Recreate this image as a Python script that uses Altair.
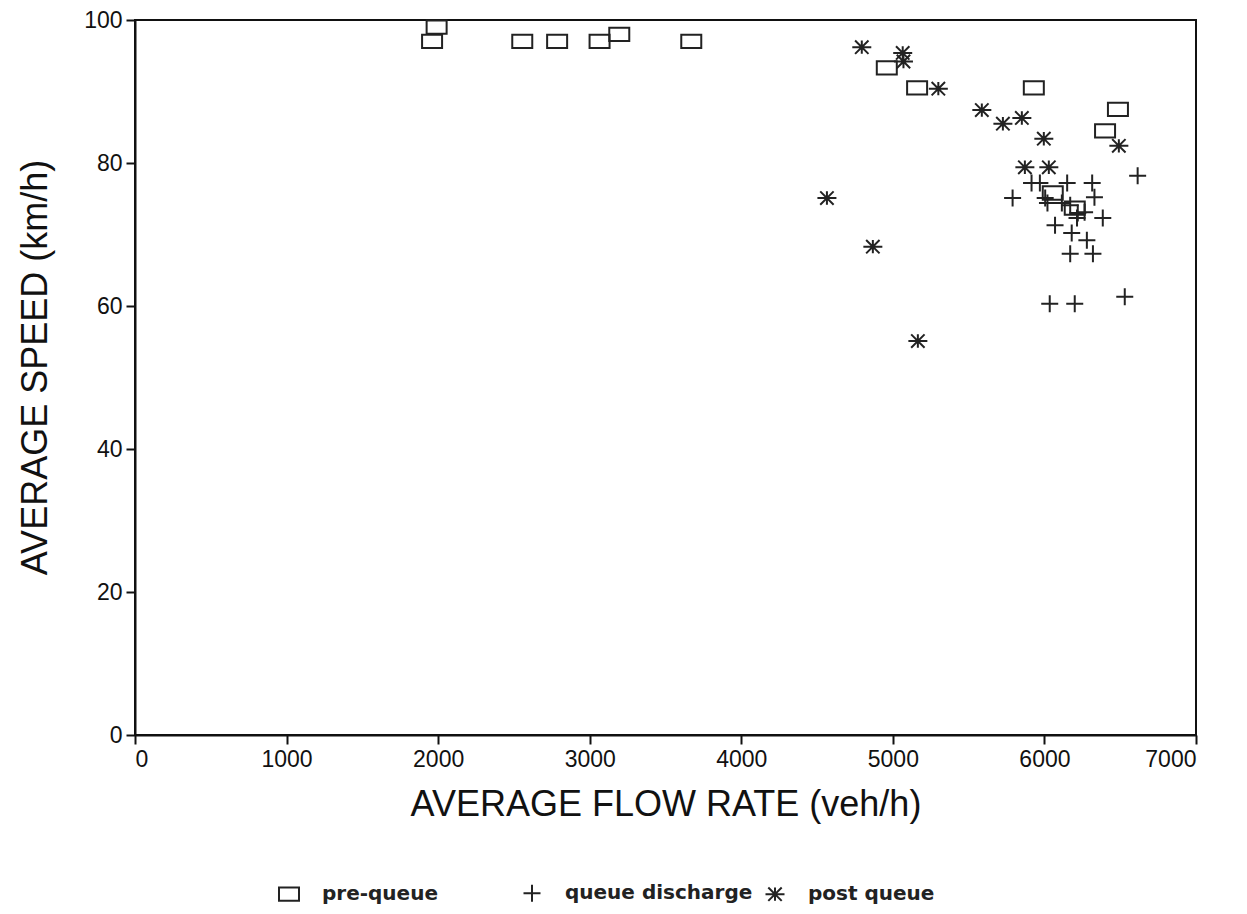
import altair as alt
import pandas as pd

# pre-queue
pre_x = [1960, 1990, 2555, 2785, 3065, 3195, 3670, 4960, 5160, 5930, 6485, 6400, 6055, 6200]
pre_y = [97, 99, 97, 97, 97, 98, 97, 93.3, 90.5, 90.5, 87.5, 84.5, 75.8, 73.7]

# queue discharge
qd_x = [6615, 5915, 5970, 6150, 6315, 5790, 6330, 6005, 6020, 6115, 6170, 6220, 6265,
        6385, 6215, 6070, 6180, 6280, 6170, 6320, 6035, 6200, 6530]
qd_y = [78.2, 77.2, 77.2, 77.2, 77.2, 75.1, 75.2, 75.1, 74.4, 74.4, 74.1, 73.0, 73.1,
        72.3, 72.3, 71.3, 70.2, 69.2, 67.3, 67.3, 60.3, 60.3, 61.3]

# post queue
pq_x = [4795, 5065, 5070, 5300, 5587, 5726, 5851, 5996, 6491, 5871, 6029, 4565, 4868, 5165]
pq_y = [96.2, 95.4, 94.2, 90.4, 87.4, 85.5, 86.3, 83.4, 82.4, 79.4, 79.4, 75.1, 68.3, 55.1]

types = ["pre-queue", "queue discharge", "post queue"]
x_ticks = [0, 1000, 2000, 3000, 4000, 5000, 6000, 7000]
y_ticks = [0, 20, 40, 60, 80, 100]

rows = []
for t, xs, ys in [(types[0], pre_x, pre_y), (types[1], qd_x, qd_y), (types[2], pq_x, pq_y)]:
    for a, b in zip(xs, ys):
        rows.append({"flow": a, "speed": b, "type": t})
df = pd.DataFrame(rows)

rect_path = "M-1,-0.667H1V0.667H-1Z"
plus_path = "M-0.85,0H0.85M0,-0.85V0.85"
star_path = "M-0.95,0H0.95M-0.67,-0.67L0.67,0.67M-0.67,0.67L0.67,-0.67M0,-0.67V0.67"

FONT = "Liberation Sans"

chart = alt.Chart(df).mark_point(filled=False, strokeWidth=2, opacity=1).encode(
    x=alt.X("flow:Q", scale=alt.Scale(domain=[0, 7000], nice=False, zero=True),
            axis=alt.Axis(values=x_ticks, format="d",
                          title="AVERAGE FLOW RATE (veh/h)", grid=False,
                          titleY=80, titleBaseline="alphabetic")),
    y=alt.Y("speed:Q", scale=alt.Scale(domain=[0, 100], nice=False),
            axis=alt.Axis(values=y_ticks, format="d", title="AVERAGE SPEED (km/h)",
                          grid=False, titleX=-100, titleY=347, titleBaseline="middle")),
    shape=alt.Shape("type:N", scale=alt.Scale(domain=types, range=[rect_path, plus_path, star_path]),
                    legend=alt.Legend(title=None, orient="none", direction="horizontal",
                                      legendX=143, legendY=862, gridAlign="all",
                                      columnPadding=8, labelOffset=22, symbolSize=400,
                                      symbolStrokeWidth=2, symbolStrokeColor="#222",
                                      labelFont="DejaVu Sans", labelFontSize=20,
                                      labelFontWeight="bold",
                                      labelColor="#222", labelLimit=400)),
    color=alt.value("#222"),
    size=alt.value(400),
).properties(
    width=1061, height=715,
    autosize=alt.AutoSizeParams(type="none"),
    padding={"left": 127, "top": 12, "right": 43, "bottom": 171},
    background="white",
).configure_view(
    stroke="#111", strokeWidth=2
).configure_axis(
    domainColor="#111", domainWidth=2, tickColor="#111", tickWidth=2, tickSize=9,
    labelFont=FONT, labelFontSize=23, labelColor="#111", labelPadding=4,
    titleFont=FONT, titleFontSize=36, titleFontWeight="normal", titleColor="#111",
)

chart.save("out.html", embed_options={"renderer": "svg", "actions": False})
